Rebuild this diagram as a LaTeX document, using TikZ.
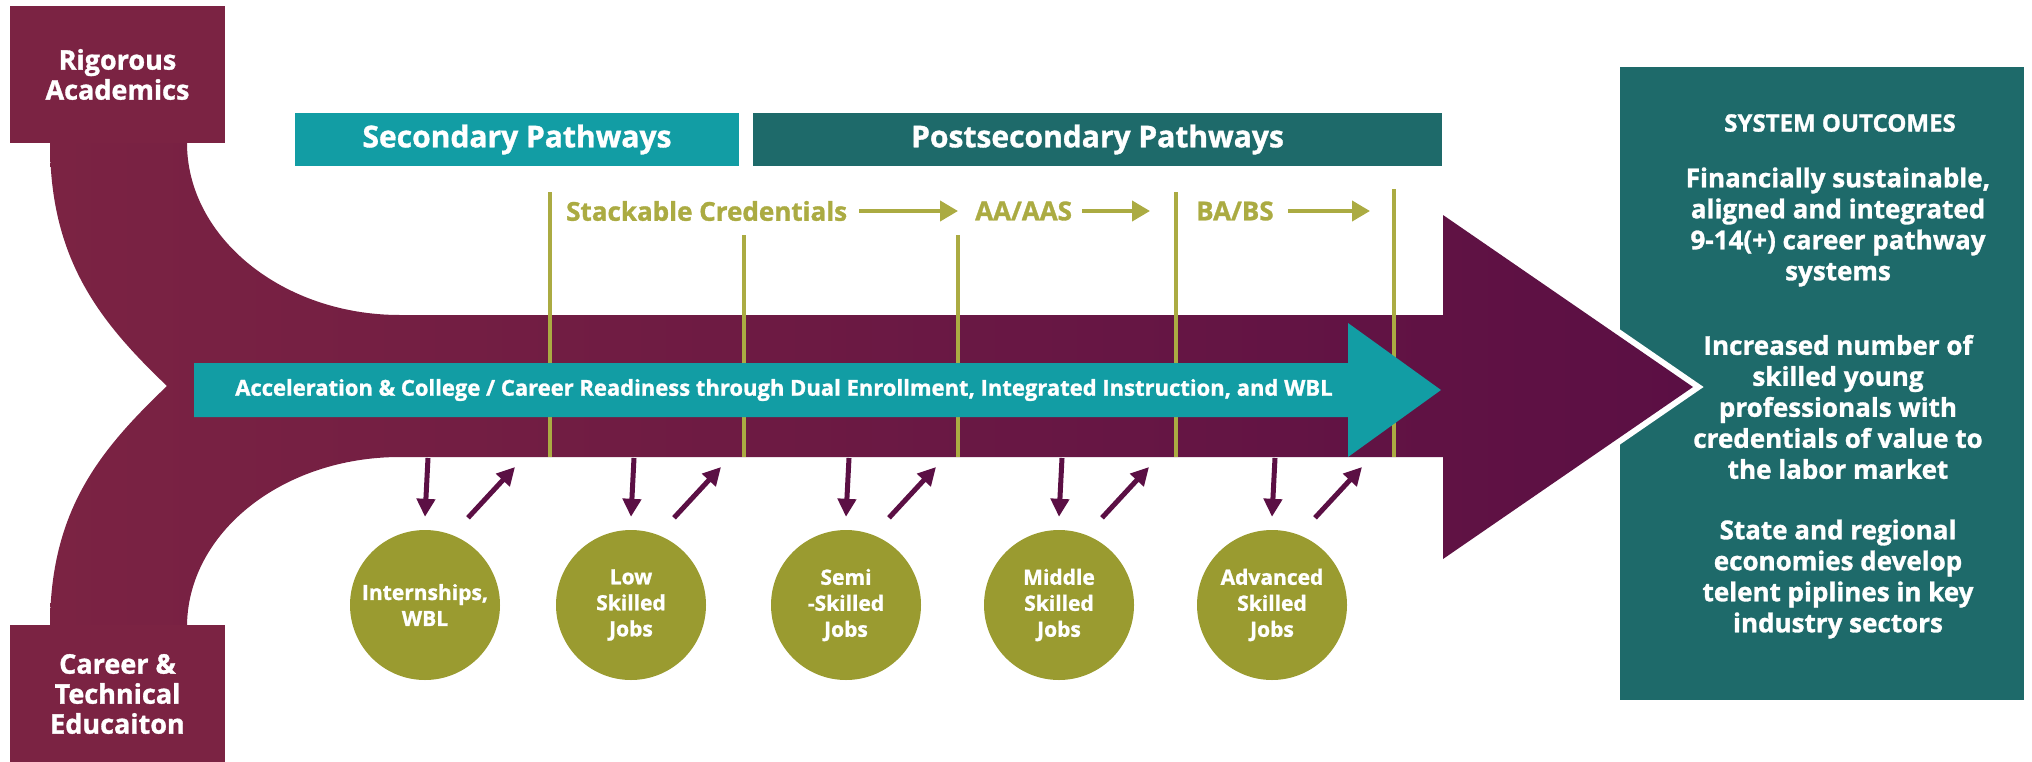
\documentclass[tikz,border=0pt]{standalone}
\usepackage{fontspec}
\setmainfont{Open Sans}[BoldFeatures={FakeBold=1.2}]
\usetikzlibrary{positioning,arrows.meta}
\definecolor{maroon}{HTML}{7B2343}
\definecolor{plum}{HTML}{5B0F44}
\definecolor{tealA}{HTML}{129DA4}
\definecolor{tealB}{HTML}{1E6A6A}
\definecolor{olive}{HTML}{ABAB42}
\definecolor{oliveC}{HTML}{9A9B30}
\begin{document}
\begin{tikzpicture}[x=1pt,y=-1pt]
  \tikzstyle{source}=[fill=maroon, text=white, align=center, inner sep=0pt,
  minimum width=215pt, font=\bfseries\fontsize{27}{30}\selectfont]
  \tikzstyle{header}=[text=white, inner sep=0pt, minimum height=53pt,
  font=\bfseries\fontsize{30}{32}\selectfont]
  \tikzstyle{cred}=[text=olive, anchor=west, inner sep=0pt,
  font=\bfseries\fontsize{26}{28}\selectfont]
  \tikzstyle{credarrow}=[-{Triangle[length=18pt,width=20pt]}, olive, line width=4pt]
  \tikzstyle{rule}=[olive, line width=4pt]
  \tikzstyle{job}=[circle, fill=oliveC, text=white, align=center, minimum size=150pt,
  inner sep=0pt, font=\bfseries\fontsize{21}{26}\selectfont]
  \tikzstyle{jobarrow}=[-{Triangle[length=18pt,width=18pt]}, plum, line width=5pt]
  \tikzstyle{outcome}=[text=white, align=center, inner sep=0pt,
  font=\bfseries\fontsize{26}{31}\selectfont]
  \useasboundingbox (0,0) rectangle (2032,761);
  % outcomes panel
  \node[fill=tealB, minimum width=404pt, minimum height=633pt, inner sep=0pt] (out) at (1822,383.5) {};
  % white rim round the arrow tip
  \draw[white, line width=12pt, line join=miter] (1443,215) -- (1693,387) -- (1443,559);
  % main band with the two inflows
  \shade[left color=maroon, right color=plum]
    (50,143) -- (187,143) .. controls (187,237) and (282,315) .. (400,315)
    -- (1443,315) -- (1443,215) -- (1693,387) -- (1443,559) -- (1443,457)
    -- (400,457) .. controls (282,457) and (187,533) .. (187,627)
    -- (50,627) .. controls (50,510) and (100,450) .. (167,386)
    .. controls (100,322) and (50,260) .. (50,143) -- cycle;
  \node[source, minimum height=137pt] (rig) at (117.5,74.5) {Rigorous\\Academics};
  \node[source, minimum height=139pt] (cte) at (117.5,694) {Career \&\\Technical\\Educaiton};
  % pathway headers
  \node[header, fill=tealA, minimum width=444pt] (sec) at (517,139.5) {Secondary Pathways};
  \node[header, fill=tealB, minimum width=689pt] (post) at (1097.5,139.5) {Postsecondary Pathways};
  % credential stages
  \foreach \n/\x/\t in {1/550/192,2/744/235,3/958/235,4/1176/192,5/1394/189} {
    \draw[rule] (\x,\t) -- (\x,457);
  }
  \node[cred] (stack) at (566,211) {Stackable Credentials};
  \node[cred] (aa) at (975,211) {AA/AAS};
  \node[cred] (ba) at (1196,211) {BA/BS};
  \coordinate (s1) at (958,211);
  \coordinate (s2) at (1150,211);
  \coordinate (s3) at (1370,211);
  \draw[credarrow] ([xshift=12pt]stack.east) -- (s1);
  \draw[credarrow] ([xshift=10pt]aa.east) -- (s2);
  \draw[credarrow] ([xshift=14pt]ba.east) -- (s3);
  % acceleration arrow
  \fill[tealA] (194,363) -- (1348,363) -- (1348,323) -- (1441,390) -- (1348,457)
    -- (1348,417) -- (194,417) -- cycle;
  \node[text=white, font=\bfseries\fontsize{22}{25}\selectfont] (acc) at (784,390)
    {Acceleration \& College / Career Readiness through Dual Enrollment, Integrated Instruction, and WBL};
  % jobs
  \foreach \n/\x/\t in {1/425/{Internships,\\WBL},2/631/{Low\\Skilled\\Jobs},
    3/846/{Semi\\-Skilled\\Jobs},4/1059/{Middle\\Skilled\\Jobs},5/1272/{Advanced\\Skilled\\Jobs}} {
    \node[job] (j\n) at (\x,605) {\t};
    \coordinate (d\n) at (\x+3,458);
    \coordinate (u\n) at (\x+90,467);
    \draw[jobarrow] (d\n) -- ([yshift=13pt]j\n.north);
    \draw[jobarrow] ([xshift=43pt,yshift=12pt]j\n.north) -- (u\n);
  }
  % outcomes text
  \node[outcome, font=\bfseries\fontsize{24}{26}\selectfont] (ttl) at (1840,123) {SYSTEM OUTCOMES};
  \node[outcome] (o1) at (1838,227) {Financially sustainable,\\aligned and integrated\\9-14(+) career pathway\\systems};
  \node[outcome] (o2) at (1838,407) {Increased number of\\skilled young\\professionals with\\credentials of value to\\the labor market};
  \node[outcome] (o3) at (1838,579) {State and regional\\economies develop\\telent piplines in key\\industry sectors};
\end{tikzpicture}
\end{document}
